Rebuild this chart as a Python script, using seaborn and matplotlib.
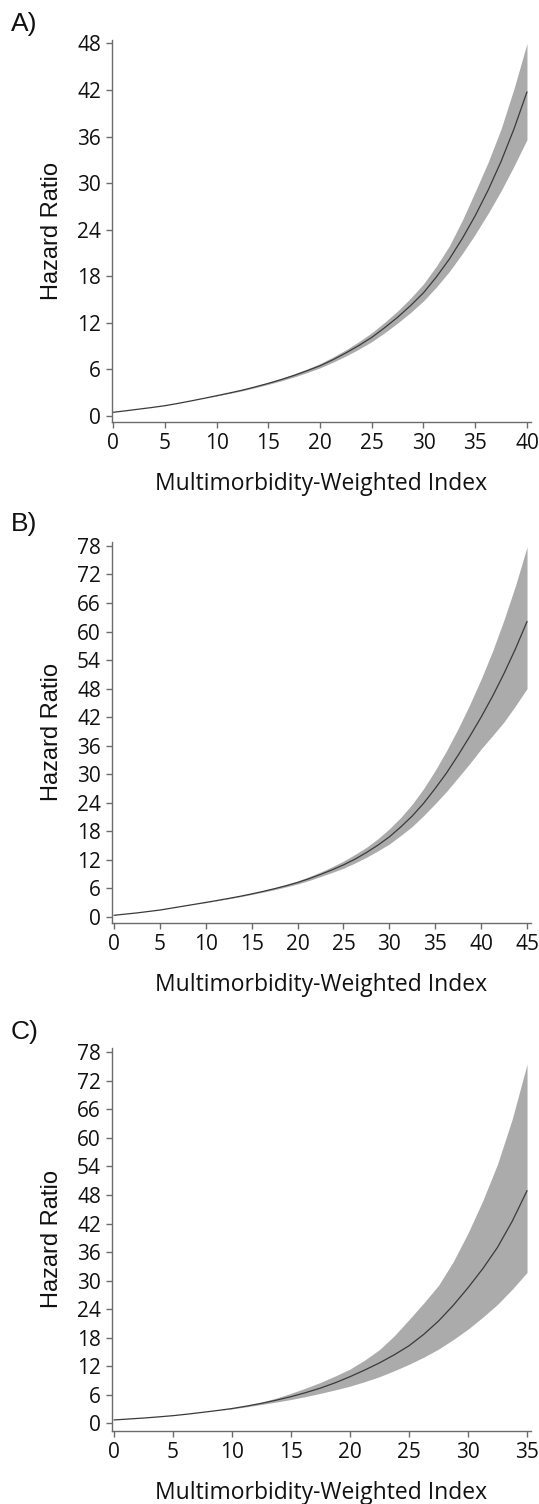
import numpy as np
import pandas as pd
import matplotlib
matplotlib.use("Agg")
import matplotlib.pyplot as plt
import seaborn as sns

# ---------------- data ----------------
# Panel A
a_x = [0, 1.25, 2.5, 3.75, 5, 6.25, 7.5, 8.75, 10, 11.25, 12.5, 13.75, 15, 16.25, 17.5, 18.75,
       20, 21.25, 22.5, 23.75, 25, 26.25, 27.5, 28.75, 30, 31.25, 32.5, 33.75, 35, 36.25, 37.5, 38.75, 40]
a_hr = [0.44, 0.64, 0.85, 1.06, 1.29, 1.58, 1.9, 2.23, 2.58, 2.93, 3.3, 3.72, 4.17, 4.66, 5.2, 5.8,
        6.44, 7.22, 8.1, 9.05, 10.1, 11.35, 12.7, 14.2, 15.85, 17.9, 20.2, 22.85, 25.8, 29.1, 32.8, 37.0, 41.75]
a_lo = [0.44, 0.64, 0.85, 1.06, 1.29, 1.58, 1.9, 2.23, 2.54, 2.87, 3.22, 3.62, 4.04, 4.5, 5.0, 5.56,
        6.17, 6.9, 7.7, 8.58, 9.55, 10.7, 11.95, 13.3, 14.8, 16.6, 18.6, 20.9, 23.4, 26.1, 29.0, 32.2, 35.6]
a_hi = [0.44, 0.64, 0.85, 1.06, 1.29, 1.58, 1.9, 2.23, 2.62, 2.99, 3.38, 3.82, 4.3, 4.82, 5.4, 6.03,
        6.72, 7.57, 8.5, 9.55, 10.7, 12.05, 13.5, 15.15, 17.0, 19.3, 21.9, 25.2, 28.9, 32.7, 37.0, 42.2, 48.0]

# Panel B
b_x = [0, 1.25, 2.5, 3.75, 5, 6.25, 7.5, 8.75, 10, 11.25, 12.5, 13.75, 15, 16.25, 17.5, 18.75,
       20, 21.25, 22.5, 23.75, 25, 26.25, 27.5, 28.75, 30, 31.25, 32.5, 33.75, 35, 36.25, 37.5, 38.75,
       40, 41.25, 42.5, 43.75, 45]
b_hr = [0.3, 0.55, 0.8, 1.1, 1.4, 1.8, 2.2, 2.6, 3.0, 3.42, 3.85, 4.3, 4.8, 5.33, 5.9, 6.52,
        7.2, 8.0, 8.9, 9.85, 10.9, 12.1, 13.5, 15.05, 16.8, 18.9, 21.2, 23.9, 27.0, 30.3, 34.0, 37.9,
        42.0, 46.4, 51.2, 56.4, 62.1]
b_lo = [0.3, 0.55, 0.8, 1.1, 1.4, 1.8, 2.2, 2.6, 2.97, 3.37, 3.78, 4.21, 4.68, 5.17, 5.7, 6.27,
        6.88, 7.62, 8.45, 9.3, 10.2, 11.3, 12.5, 13.85, 15.3, 17.1, 19.0, 21.3, 23.8, 26.4, 29.3, 32.2,
        35.3, 38.1, 41.0, 44.4, 48.0]
b_hi = [0.3, 0.55, 0.8, 1.1, 1.4, 1.8, 2.2, 2.6, 3.03, 3.47, 3.92, 4.4, 4.92, 5.49, 6.1, 6.78,
        7.52, 8.42, 9.4, 10.5, 11.7, 13.1, 14.6, 16.4, 18.5, 20.9, 23.7, 27.0, 30.8, 35.0, 39.6, 44.6,
        50.0, 55.9, 62.5, 69.7, 77.8]

# Panel C
c_x = [0, 1.25, 2.5, 3.75, 5, 6.25, 7.5, 8.75, 10, 11.25, 12.5, 13.75, 15, 16.25, 17.5, 18.75,
       20, 21.25, 22.5, 23.75, 25, 26.25, 27.5, 28.75, 30, 31.25, 32.5, 33.75, 35]
c_hr = [0.7, 0.9, 1.1, 1.34, 1.6, 1.93, 2.3, 2.68, 3.1, 3.62, 4.2, 4.86, 5.6, 6.45, 7.4, 8.52,
        9.8, 11.2, 12.7, 14.4, 16.3, 18.7, 21.5, 24.8, 28.5, 32.5, 37.0, 42.5, 48.9]
c_lo = [0.7, 0.9, 1.1, 1.34, 1.6, 1.93, 2.3, 2.68, 3.02, 3.47, 3.95, 4.46, 5.0, 5.62, 6.3, 7.02,
        7.8, 8.75, 9.8, 11.05, 12.4, 13.9, 15.6, 17.6, 19.8, 22.3, 25.0, 28.2, 31.7]
c_hi = [0.7, 0.9, 1.1, 1.34, 1.6, 1.93, 2.3, 2.68, 3.18, 3.78, 4.45, 5.3, 6.3, 7.4, 8.6, 9.95,
        11.4, 13.3, 15.5, 18.4, 21.8, 25.3, 29.0, 34.0, 40.0, 46.8, 54.5, 64.0, 75.5]

panel_labels = ["A)", "B)", "C)"]
a_yticks = [0, 6, 12, 18, 24, 30, 36, 42, 48]
bc_yticks = list(range(0, 79, 6))
a_xticks = list(range(0, 41, 5))
b_xticks = list(range(0, 46, 5))
c_xticks = list(range(0, 36, 5))
xlabel = "Multimorbidity-Weighted Index"
ylabel = "Hazard Ratio"

# ---------------- style ----------------
sns.set_theme(style="white")
plt.rcParams["font.family"] = ["Open Sans", "DejaVu Sans"]

W, H = 539, 1504
fig = plt.figure(figsize=(W / 100, H / 100), dpi=100)

spine_col = "#6b6b6b"
band_col = "#ababab"
line_col = "#3a3a3a"

panels = [
    dict(x=a_x, hr=a_hr, lo=a_lo, hi=a_hi, xt=a_xticks, yt=a_yticks,
         xlim=(-0.1, 40.36), ylim=(-0.77, 48.45), px=(112, 530.7, 40, 421.7)),
    dict(x=b_x, hr=b_hr, lo=b_lo, hi=b_hi, xt=b_xticks, yt=bc_yticks,
         xlim=(-0.22, 45.4), ylim=(-1.26, 78.9), px=(112, 530.7, 541.7, 922.7)),
    dict(x=c_x, hr=c_hr, lo=c_lo, hi=c_hi, xt=c_xticks, yt=bc_yticks,
         xlim=(-0.17, 35.31), ylim=(-1.56, 78.9), px=(112, 530.7, 1048, 1430.7)),
]
label_y = [24, 524, 1032]

for i, p in enumerate(panels):
    l, r, t, b = p["px"]
    ax = fig.add_axes([l / W, 1 - b / H, (r - l) / W, (b - t) / H])
    df = pd.DataFrame({"x": p["x"], "hr": p["hr"], "lo": p["lo"], "hi": p["hi"]})
    ax.fill_between(df["x"], df["lo"], df["hi"], color=band_col, linewidth=0, zorder=1)
    sns.lineplot(data=df, x="x", y="hr", ax=ax, color=line_col, linewidth=0.9, zorder=2)
    ax.set_xlim(*p["xlim"])
    ax.set_ylim(*p["ylim"])
    ax.set_xticks(p["xt"])
    ax.set_yticks(p["yt"])
    sns.despine(ax=ax)
    for s in ("left", "bottom"):
        ax.spines[s].set_color(spine_col)
        ax.spines[s].set_linewidth(1.0)
    ax.tick_params(axis="both", which="major", direction="out", length=4, width=1,
                   color=spine_col, labelsize=15, labelcolor="#111111", pad=4,
                   left=True, bottom=True)
    ax.set_xlabel(xlabel, fontsize=16.5, color="#111111", labelpad=13)
    ax.set_ylabel(ylabel, fontsize=17, color="#111111", labelpad=10,
                  family=["Liberation Sans", "DejaVu Sans"])
    ax.grid(False)
    fig.text(11 / W, 1 - label_y[i] / H, panel_labels[i], fontsize=19,
             family=["Liberation Sans", "DejaVu Sans"], color="#111111",
             ha="left", va="center")

fig.savefig("out.png", dpi=100, facecolor="white")
